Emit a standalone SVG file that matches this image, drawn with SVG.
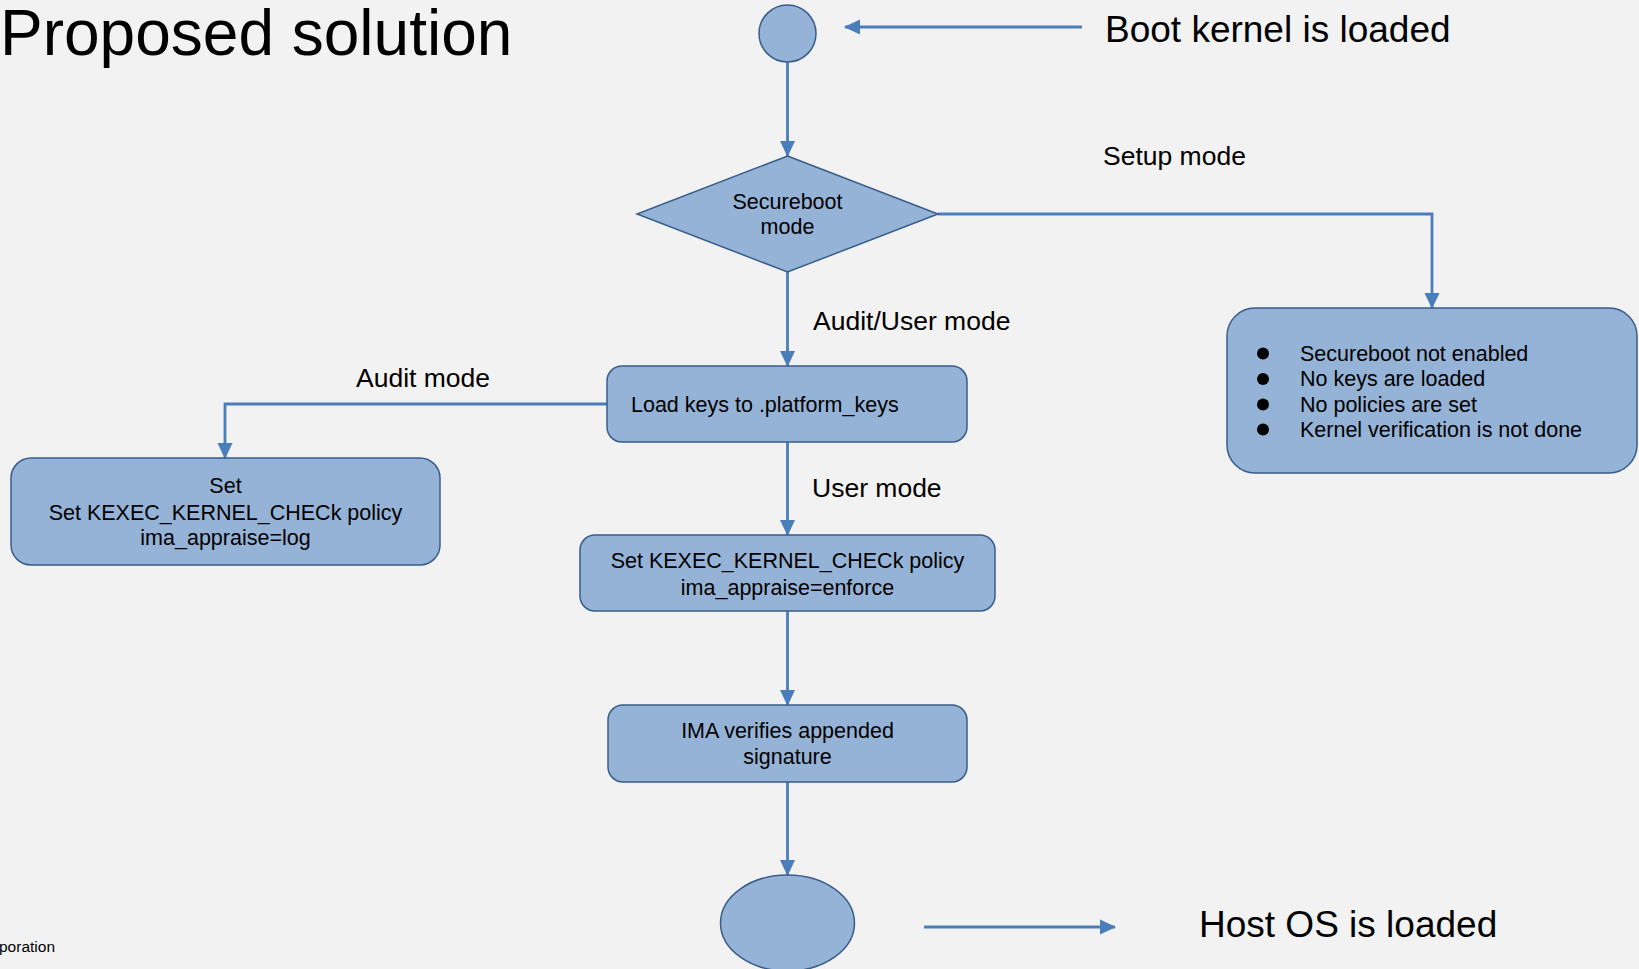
<svg xmlns="http://www.w3.org/2000/svg" width="1639" height="969" viewBox="0 0 1639 969">
  <defs>
    <marker id="arrow" viewBox="0 0 16 16" refX="15" refY="8" markerWidth="16" markerHeight="16" markerUnits="userSpaceOnUse" orient="auto">
      <path d="M0,0.5 L16,8 L0,15.5 Z" fill="#4A7EBB"/>
    </marker>
    <style>
      .shape { fill: #95B3D7; stroke: #385D8A; stroke-width: 1.5; }
      .conn { fill: none; stroke: #4A7EBB; stroke-width: 2.8; marker-end: url(#arrow); }
      .t { font-family: "Liberation Sans", Arial, sans-serif; fill: #000; }
      .node { font-size: 21.5px; }
      .mid { text-anchor: middle; }
      .label { font-size: 26.5px; }
      .big { font-size: 37px; }
    </style>
  </defs>

  <rect x="0" y="0" width="1639" height="969" fill="#F2F2F2"/>

  <!-- Title and annotations -->
  <text class="t" x="0" y="55" font-size="64">Proposed solution</text>
  <text class="t big" x="1105" y="42">Boot kernel is loaded</text>
  <text class="t big" x="1199" y="937">Host OS is loaded</text>
  <text class="t" x="-1" y="952" font-size="15.5">poration</text>

  <!-- Connectors -->
  <g id="connectors">
    <path class="conn" d="M1082,27 L845,27"/>
    <path class="conn" d="M787.5,62 L787.5,156"/>
    <path class="conn" d="M938,214 L1432,214 L1432,308"/>
    <path class="conn" d="M787.5,272 L787.5,366"/>
    <path class="conn" d="M607,404 L225,404 L225,458"/>
    <path class="conn" d="M787.5,442 L787.5,535"/>
    <path class="conn" d="M787.5,611 L787.5,705"/>
    <path class="conn" d="M787.5,782 L787.5,875"/>
    <path class="conn" d="M924,927 L1115,927"/>
    <text class="t label" x="1103" y="165">Setup mode</text>
    <text class="t label" x="813" y="330">Audit/User mode</text>
    <text class="t label" x="356" y="387">Audit mode</text>
    <text class="t label" x="812" y="497">User mode</text>
  </g>

  <!-- Start node -->
  <g id="start">
    <circle class="shape" cx="787.5" cy="33.5" r="28.5"/>
  </g>

  <!-- Decision -->
  <g id="secureboot-mode">
    <polygon class="shape" points="787.5,156 938,214 787.5,272 637,214"/>
    <text class="t node mid" x="787.5" y="209" font-size="21">Secureboot</text>
    <text class="t node mid" x="787.5" y="234" font-size="21">mode</text>
  </g>

  <!-- Setup mode result -->
  <g id="setup-result">
    <rect class="shape" x="1227" y="308" width="410" height="165" rx="28" ry="28"/>
    <g fill="#000">
      <circle cx="1263" cy="353.5" r="6"/>
      <circle cx="1263" cy="379" r="6"/>
      <circle cx="1263" cy="404.5" r="6"/>
      <circle cx="1263" cy="429.5" r="6"/>
    </g>
    <text class="t node" x="1300" y="361">Secureboot not enabled</text>
    <text class="t node" x="1300" y="386">No keys are loaded</text>
    <text class="t node" x="1300" y="412">No policies are set</text>
    <text class="t node" x="1300" y="437">Kernel verification is not done</text>
  </g>

  <!-- Load keys -->
  <g id="load-keys">
    <rect class="shape" x="607" y="366" width="360" height="76" rx="15" ry="15"/>
    <text class="t node" x="631" y="412">Load keys to .platform_keys</text>
  </g>

  <!-- Audit mode policy -->
  <g id="audit-policy">
    <rect class="shape" x="11" y="458" width="429" height="107" rx="20" ry="20"/>
    <text class="t node mid" x="225.5" y="493">Set</text>
    <text class="t node mid" x="225.5" y="520">Set KEXEC_KERNEL_CHECk policy</text>
    <text class="t node mid" x="225.5" y="545">ima_appraise=log</text>
  </g>

  <!-- User mode policy -->
  <g id="user-policy">
    <rect class="shape" x="580" y="535" width="415" height="76" rx="15" ry="15"/>
    <text class="t node mid" x="787.5" y="568">Set KEXEC_KERNEL_CHECk policy</text>
    <text class="t node mid" x="787.5" y="595">ima_appraise=enforce</text>
  </g>

  <!-- Signature verification -->
  <g id="ima-verify">
    <rect class="shape" x="608" y="705" width="359" height="77" rx="15" ry="15"/>
    <text class="t node mid" x="787.5" y="738">IMA verifies appended</text>
    <text class="t node mid" x="787.5" y="764">signature</text>
  </g>

  <!-- End node -->
  <g id="end">
    <ellipse class="shape" cx="787.5" cy="923" rx="67" ry="48"/>
  </g>
</svg>
